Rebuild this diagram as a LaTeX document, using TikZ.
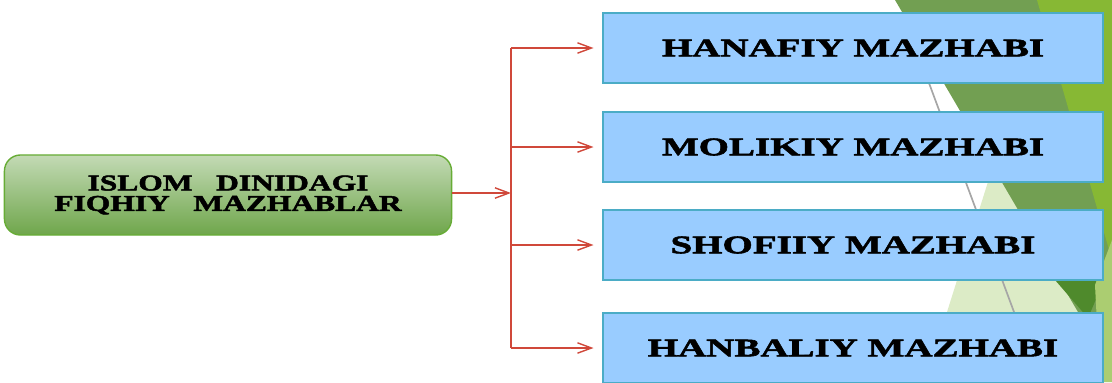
\documentclass[tikz,border=0pt]{standalone}
\usepackage{fontspec}
\usepackage{tikz}
\usetikzlibrary{arrows.meta,shadows}
\newfontfamily\mazfont[FakeStretch=1.54,FakeBold=2.2]{Liberation Serif}
\newfontfamily\rootfont[FakeStretch=1.40,FakeBold=2.2]{Liberation Serif}
\definecolor{boxblue}{HTML}{99CCFF}
\definecolor{boxedge}{HTML}{4BACC6}
\definecolor{arrred}{HTML}{D0483A}
\definecolor{leafdark}{HTML}{729F52}
\definecolor{leaflight}{HTML}{87B834}
\definecolor{leafpale}{HTML}{DCEBC6}
\definecolor{leafdeep}{HTML}{4F8A2C}
\definecolor{roottop}{HTML}{C3DAB5}
\definecolor{rootbot}{HTML}{6FA64B}
\definecolor{rootedge}{HTML}{67AC36}
\tikzset{
  mazbox/.style={draw=boxedge,fill=boxblue,line width=0.9pt,minimum width=12.5cm,
    minimum height=1.75cm,inner sep=0pt,
    drop shadow={opacity=0.35,shadow xshift=1pt,shadow yshift=-1pt},
    font=\mazfont\bfseries\fontsize{18}{20}\selectfont},
  rootbox/.style={draw=rootedge,line width=1pt,rounded corners=0.4cm,
    top color=roottop,bottom color=rootbot,
    minimum width=11.175cm,minimum height=2cm,align=center,
    font=\rootfont\bfseries\fontsize{16}{14.5}\selectfont},
  arr/.style={arrred,line width=1pt,-{Straight Barb[length=3.5mm,width=2.6mm]}}
}

\begin{document}
\begin{tikzpicture}[x=0.025cm,y=-0.025cm]
\useasboundingbox (0,0) rectangle (1112,382);
\clip (0,0) rectangle (1112,382);
% background
\fill[leafpale] (998,150)--(1112,340)--(1112,382)--(925,382)--cycle;
\fill[leafdark] (895,0)--(1112,0)--(1112,370)--cycle;
\fill[leafdeep] (1055,280)--(1105,278)--(1088,318)--cycle;
\fill[leaflight] (1037,0)--(1112,0)--(1112,260)--cycle;
\fill[leaflight!70!white] (1095,285)--(1112,240)--(1112,382)--(1100,382)--cycle;
\draw[gray!70,line width=1.2pt] (903,13)--(1040,382);

\node[rootbox] (islom) at (228,195) {ISLOM\ \ \ DINIDAGI\\FIQHIY\ \ \ MAZHABLAR};
\node[mazbox] (hanafiy) at (853,48) {HANAFIY MAZHABI};
\node[mazbox] (molikiy) at (853,147) {MOLIKIY MAZHABI};
\node[mazbox] (shofiiy) at (853,245) {SHOFIIY MAZHABI};
\node[mazbox] (hanbaliy) at (853,348) {HANBALIY MAZHABI};

\coordinate (fork) at (511,193);
\draw[arr] (islom.east|-fork) -- (fork);
\draw[arrred,line width=1.4pt] (fork|-hanafiy) -- (fork|-hanbaliy);
\foreach \b in {hanafiy,molikiy,shofiiy,hanbaliy}
\draw[arr,shorten >=0.22cm] (fork|-\b.west) -- (\b.west);
\end{tikzpicture}
\end{document}
